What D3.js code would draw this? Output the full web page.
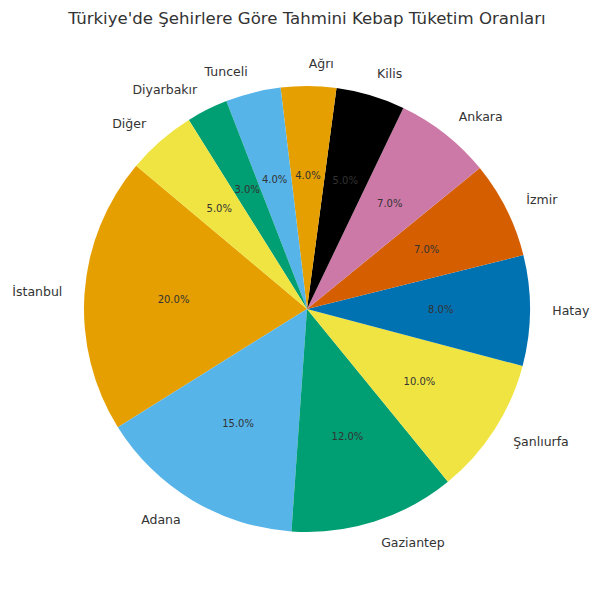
<!DOCTYPE html>
<html>
<head>
<meta charset="utf-8">
<script src="https://cdn.jsdelivr.net/npm/d3@7"></script>
<style>
  body { margin: 0; background: #fff; }
  text { font-family: "DejaVu Sans", sans-serif; }
</style>
</head>
<body>
<div id="chart"></div>
<script>
const cities = ["İstanbul", "Adana", "Gaziantep", "Şanlıurfa", "Hatay", "İzmir", "Ankara", "Kilis", "Ağrı", "Tunceli", "Diyarbakır", "Diğer"];
const shares = [20, 15, 12, 10, 8, 7, 7, 5, 4, 4, 3, 5];
const palette = ["#E69F00", "#56B4E9", "#009E73", "#F0E442", "#0072B2", "#D55E00", "#CC79A7", "#000000"];

const width = 600, height = 600;
const cx = 307, cy = 309, radius = 223;

const svg = d3.select("#chart")
  .append("svg")
  .attr("width", width)
  .attr("height", height);

svg.append("text")
  .attr("x", cx)
  .attr("y", 24)
  .attr("text-anchor", "middle")
  .style("font-size", "16.6px")
  .attr("fill", "#333")
  .text("Türkiye'de Şehirlere Göre Tahmini Kebap Tüketim Oranları");

// matplotlib style: counterclockwise from 140 degrees
const start = (90 - 140) * Math.PI / 180;
const pie = d3.pie()
  .sort(null)
  .value(d => d.v)
  .startAngle(start)
  .endAngle(start - 2 * Math.PI);

const arcs = pie(cities.map((c, i) => ({ c, v: shares[i] })));
const arc = d3.arc().innerRadius(0).outerRadius(radius);

const g = svg.append("g").attr("transform", `translate(${cx},${cy})`);

g.selectAll("path")
  .data(arcs)
  .enter()
  .append("path")
  .attr("d", arc)
  .attr("fill", (d, i) => palette[i % palette.length]);

const total = d3.sum(shares);
const mid = d => (d.startAngle + d.endAngle) / 2;

// Percent labels
g.selectAll("text.pct")
  .data(arcs)
  .enter()
  .append("text")
  .attr("class", "pct")
  .attr("x", d => 0.6 * radius * Math.sin(mid(d)))
  .attr("y", d => -0.6 * radius * Math.cos(mid(d)))
  .attr("text-anchor", "middle")
  .attr("dominant-baseline", "central")
  .style("font-size", "10px")
  .attr("fill", "#333")
  .text(d => (d.data.v / total * 100).toFixed(1) + "%");

// City labels
g.selectAll("text.lbl")
  .data(arcs)
  .enter()
  .append("text")
  .attr("class", "lbl")
  .attr("x", d => 1.1 * radius * Math.sin(mid(d)))
  .attr("y", d => -1.1 * radius * Math.cos(mid(d)))
  .attr("text-anchor", d => Math.sin(mid(d)) >= 0 ? "start" : "end")
  .attr("dominant-baseline", "central")
  .style("font-size", "12.5px")
  .attr("fill", "#333")
  .text(d => d.data.c);
</script>
</body>
</html>
